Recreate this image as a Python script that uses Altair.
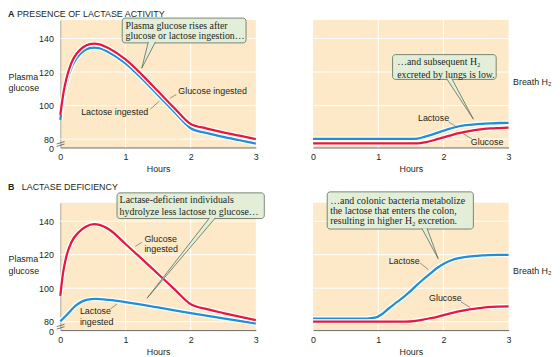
import altair as alt
import pandas as pd

SANS = "Liberation Sans"
SERIF = "Liberation Serif"
INK = "#231f20"
RED = "#e8173d"
BLUE = "#1f8fd6"
PEACH = "#fde9c7"
GRID_COLOR = "#ffffff"
BOX_FILL = "#e3eed8"
BOX_LINE = "#5d6b59"
LEADER = "#555555"

W, H = 198, 129

HOUR_DOMAIN = [0, 3]
HOUR_TICKS = [0, 1, 2, 3]
HOUR_GRID = [1, 2]
GLU_DOMAIN = [75, 151]
GLU_TICKS = [75, 80, 100, 120, 140]
GLU_GRID = [80, 100, 120, 140]
H2_DOMAIN = [0, 76]
H2_GRID = [5, 25, 45, 65]

# ---------- A: presence of lactase activity ----------
a_glu_hours = [0, 0.05, 0.1, 0.17, 0.25, 0.35, 0.45, 0.52, 0.6, 0.75, 1.0, 1.25, 1.5, 1.75, 2.0, 2.25, 2.5, 2.75, 3.0]
a_glu_plasma = [94.5, 108, 117, 125.5, 131, 134.8, 136.7, 137, 136.5, 134, 127.5, 118.5, 108.5, 98.5, 89, 86.3, 84, 82, 80]
a_lac_plasma = [91.5, 105, 114, 122.5, 128.3, 132.3, 134.3, 134.6, 134.2, 131.7, 125.2, 116.2, 106.2, 96.2, 86.5, 83.5, 81.3, 79.3, 77.3]

a_h2_hours = [0, 0.5, 1.0, 1.5, 1.6, 1.72, 1.85, 1.97, 2.1, 2.22, 2.35, 2.48, 2.6, 2.73, 2.85, 3.0]
a_lac_h2 = [5.1, 5.1, 5.1, 5.1, 5.3, 6.5, 8.0, 9.6, 11.2, 12.5, 13.3, 13.8, 14.1, 14.4, 14.6, 14.7]
a_glu_h2 = [2.5, 2.5, 2.5, 2.5, 2.5, 3.1, 4.3, 5.7, 7.1, 8.4, 9.5, 10.4, 11.0, 11.4, 11.6, 11.8]

# ---------- B: lactase deficiency ----------
b_glu_hours = [0, 0.04, 0.09, 0.17, 0.29, 0.39, 0.52, 0.6, 0.75, 1.0, 1.25, 1.5, 1.75, 2.0, 2.25, 2.5, 2.75, 3.0]
b_glu_plasma = [95.5, 108.7, 118.6, 127.4, 133.7, 136.7, 138.2, 137.8, 135, 126.4, 117.5, 108.5, 99.5, 90.5, 87.5, 85.2, 83, 80.9]
b_lac_hours = [0, 0.1, 0.25, 0.4, 0.55, 0.75, 1.0, 1.5, 2.0, 2.5, 3.0]
b_lac_plasma = [80.3, 84.2, 90.1, 93.1, 93.7, 93, 91.7, 88.5, 85.2, 82, 78.9]

b_h2_hours = [0, 0.5, 0.83, 0.95, 1.05, 1.16, 1.29, 1.42, 1.55, 1.67, 1.8, 1.92, 2.05, 2.17, 2.3, 2.43, 2.55, 2.68, 2.85, 3.0]
b_lac_h2 = [6.9, 6.9, 6.9, 7.4, 9.3, 12.9, 16.8, 20.8, 25.3, 29.6, 33.8, 37.5, 40.5, 42.4, 43.4, 44.0, 44.4, 44.8, 44.9, 44.9]
b_glu_h2 = [5.1, 5.1, 5.1, 5.1, 5.1, 5.1, 5.1, 5.1, 5.4, 6.1, 7.1, 8.1, 9.4, 10.6, 11.6, 12.5, 13.1, 13.7, 14.0, 14.1]

# ---------- annotations (data coordinates: hours, value) ----------
a_left_box = [0.95, 2.85, 152.2, 137.4]
a_left_text = ["Plasma glucose rises after", "glucose or lactose ingestion…"]
a_left_text_h = [1.0, 1.0]
a_left_text_v = [147.6, 141.2]
a_left_ptr_h = [1.35, 1.25, 1.46]
a_left_ptr_v = [138.0, 122.3, 138.0]
a_left_lbl = ["Glucose ingested", "Lactose ingested"]
a_left_lbl_h = [1.81, 0.32]
a_left_lbl_v = [108.6, 96.2]
a_left_ldr = [[1.78, 1.68, 106.6, 104.3], [1.38, 1.52, 97.8, 102.7]]

a_right_box = [1.22, 2.81, 55.4, 40.6]
a_right_text = ["…and subsequent H₂", "excreted by lungs is low."]
a_right_text_h = [1.29, 1.29]
a_right_text_v = [51.0, 43.3]
a_right_ptr_h = [2.05, 2.46, 2.13]
a_right_ptr_v = [41.0, 16.9, 41.0]
a_right_lbl = ["Lactose", "Glucose"]
a_right_lbl_h = [1.61, 2.42]
a_right_lbl_v = [17.8, 3.1]
a_right_ldr = [[2.08, 2.22, 15.3, 11.8], [2.44, 2.29, 5.0, 8.5]]

b_left_box = [0.87, 3.13, 156.9, 141.6]
b_left_text = ["Lactase-deficient individuals", "hydrolyze less lactose to glucose…"]
b_left_text_h = [0.91, 0.91]
b_left_text_v = [152.4, 145.5]
b_left_ptr_h = [2.29, 1.33, 2.38]
b_left_ptr_v = [142.0, 94.0, 142.0]
b_left_lbl = ["Glucose", "ingested", "Lactose", "ingested"]
b_left_lbl_h = [1.29, 1.29, 0.30, 0.30]
b_left_lbl_v = [129.4, 123.5, 86.2, 79.9]
b_left_ldr = [[1.25, 1.15, 127.4, 124.9], [0.77, 0.87, 87.7, 90.6]]

b_right_box = [0.217, 2.46, 82.5, 60.3]
b_right_text = ["…and colonic bacteria metabolize", "the lactose that enters the colon,", "resulting in higher H₂ excretion."]
b_right_text_h = [0.262, 0.262, 0.262]
b_right_text_v = [77.0, 71.0, 64.8]
b_right_ptr_h = [1.67, 1.92, 1.75]
b_right_ptr_v = [60.7, 42.6, 60.7]
b_right_lbl = ["Lactose", "Glucose"]
b_right_lbl_h = [1.16, 1.78]
b_right_lbl_v = [41.1, 19.4]
b_right_ldr = [[1.64, 1.77, 40.1, 36.1], [2.27, 2.41, 16.9, 13.5]]

# axis-break marks on the plasma glucose axis
break_marks = [[-0.056, 0.065, 75.6, 77.05], [-0.056, 0.065, 77.05, 78.5]]


def build_panel(kind, curves, box, text, text_h, text_v, ptr_h, ptr_v,
                lbl, lbl_h, lbl_v, leaders, headings, h2_title_y=62):
    ydom = GLU_DOMAIN if kind == "glu" else H2_DOMAIN
    ygrid = GLU_GRID if kind == "glu" else H2_GRID
    xsc = alt.Scale(domain=HOUR_DOMAIN, nice=False, zero=False)
    ysc = alt.Scale(domain=ydom, nice=False, zero=False)
    x_axis = alt.Axis(values=HOUR_TICKS, format="d", title="Hours", ticks=False,
                      labelFlush=False, labelPadding=5.5, titlePadding=3,
                      domainColor="#666666", domainWidth=1, grid=False)
    if kind == "glu":
        y_axis = alt.Axis(orient="left", values=GLU_TICKS,
                          labelExpr="datum.value == 75 ? '0' : datum.label",
                          labelOffset={"condition": {"test": "datum.value == 75", "value": 1.5}, "value": 0},
                          ticks=False, grid=False, labelOverlap=False, labelPadding=7,
                          domainColor="#9a9a9a", domainWidth=0.8,
                          title=["Plasma", "glucose"], titleAngle=0, titleAlign="left",
                          titleBaseline="top", titleX=-53, titleY=53, titleLineHeight=11.5)
    else:
        y_axis = alt.Axis(orient="right", labels=False, ticks=False, grid=False, domain=False,
                          title="Breath H₂", titleAngle=0, titleAlign="left",
                          titleBaseline="middle", titleX=4, titleY=h2_title_y)

    def X(f="h"):
        return alt.X(f"{f}:Q", scale=xsc, axis=x_axis)

    def Y(f="v"):
        return alt.Y(f"{f}:Q", scale=ysc, axis=y_axis)

    layers = []
    layers.append(alt.Chart(pd.DataFrame({"h": HOUR_GRID})).mark_rule(color=GRID_COLOR, strokeWidth=1)
                  .encode(x=X()))
    layers.append(alt.Chart(pd.DataFrame({"v": ygrid})).mark_rule(color=GRID_COLOR, strokeWidth=1)
                  .encode(y=Y()))

    for hours, vals, color in curves:
        base = alt.Chart(pd.DataFrame({"h": hours, "v": vals})).encode(x=X(), y=Y())
        layers.append(base.mark_line(color="white", strokeWidth=4.8, interpolate="monotone"))
        layers.append(base.mark_line(color=color, strokeWidth=2.3, interpolate="monotone"))

    ldf = pd.DataFrame(leaders, columns=["h", "h2", "v", "v2"])
    layers.append(alt.Chart(ldf).mark_rule(color=LEADER, strokeWidth=0.6)
                  .encode(x=X(), x2="h2:Q", y=Y(), y2="v2:Q"))
    layers.append(alt.Chart(pd.DataFrame({"h": lbl_h, "v": lbl_v, "t": lbl}))
                  .mark_text(align="left", baseline="middle", font=SANS, fontSize=9, color=INK)
                  .encode(x=X(), y=Y(), text="t:N"))

    bdf = pd.DataFrame([box], columns=["h", "h2", "v", "v2"])
    layers.append(alt.Chart(bdf).mark_rect(fill=BOX_FILL, stroke=BOX_LINE, strokeWidth=0.8, cornerRadius=3)
                  .encode(x=X(), x2="h2:Q", y=Y(), y2="v2:Q"))
    layers.append(alt.Chart(pd.DataFrame({"h": text_h, "v": text_v, "t": text}))
                  .mark_text(align="left", baseline="middle", font=SERIF, fontSize=10, color=INK)
                  .encode(x=X(), y=Y(), text="t:N"))
    pdf = pd.DataFrame({"h": ptr_h, "v": ptr_v, "o": [0, 1, 2]})
    layers.append(alt.Chart(pdf).mark_line(fill=BOX_FILL, stroke=BOX_LINE, strokeWidth=0.8)
                  .encode(x=X(), y=Y(), order="o:O"))

    if kind == "glu":
        kdf = pd.DataFrame(break_marks, columns=["h", "h2", "v", "v2"])
        layers.append(alt.Chart(kdf).mark_rule(color="#555555", strokeWidth=0.8)
                      .encode(x=X(), x2="h2:Q", y=Y(), y2="v2:Q"))

    for txt, px, py, weight, base in headings:
        layers.append(alt.Chart(pd.DataFrame({"t": [txt]}))
                      .mark_text(align="left", baseline=base, font=SANS, fontSize=9,
                                 fontWeight=weight, color=INK)
                      .encode(x=alt.value(px), y=alt.value(py), text="t:N"))

    return alt.layer(*layers).properties(width=W, height=H)


pA_left = build_panel(
    "glu",
    [(a_glu_hours, a_lac_plasma, BLUE), (a_glu_hours, a_glu_plasma, RED)],
    a_left_box, a_left_text, a_left_text_h, a_left_text_v, a_left_ptr_h, a_left_ptr_v,
    a_left_lbl, a_left_lbl_h, a_left_lbl_v, a_left_ldr,
    [("A", -53, -10, "bold", "top"), ("PRESENCE OF LACTASE ACTIVITY", -44, -10, "normal", "top")])

pA_right = build_panel(
    "h2",
    [(a_h2_hours, a_lac_h2, BLUE), (a_h2_hours, a_glu_h2, RED)],
    a_right_box, a_right_text, a_right_text_h, a_right_text_v, a_right_ptr_h, a_right_ptr_v,
    a_right_lbl, a_right_lbl_h, a_right_lbl_v, a_right_ldr, [], h2_title_y=62)

pB_left = build_panel(
    "glu",
    [(b_lac_hours, b_lac_plasma, BLUE), (b_glu_hours, b_glu_plasma, RED)],
    b_left_box, b_left_text, b_left_text_h, b_left_text_v, b_left_ptr_h, b_left_ptr_v,
    b_left_lbl, b_left_lbl_h, b_left_lbl_v, b_left_ldr,
    [("B", -53, -16, "bold", "middle"), ("LACTASE DEFICIENCY", -39, -16, "normal", "middle")])

pB_right = build_panel(
    "h2",
    [(b_h2_hours, b_lac_h2, BLUE), (b_h2_hours, b_glu_h2, RED)],
    b_right_box, b_right_text, b_right_text_h, b_right_text_v, b_right_ptr_h, b_right_ptr_v,
    b_right_lbl, b_right_lbl_h, b_right_lbl_v, b_right_ldr, [], h2_title_y=69)

chart = alt.concat(
    pA_left, pA_right, pB_left, pB_right,
    columns=2,
    spacing=alt.RowColnumber(row=56, column=58),
    bounds="flush",
).properties(
    padding=0, background="white"
).configure_view(
    fill=PEACH, strokeWidth=0, stroke="transparent"
).configure_axis(
    labelFont=SANS, titleFont=SANS, labelFontSize=9, titleFontSize=9,
    labelColor=INK, titleColor=INK, titleFontWeight="normal"
)

chart.save("out.html", embed_options={"renderer": "svg", "actions": False})
